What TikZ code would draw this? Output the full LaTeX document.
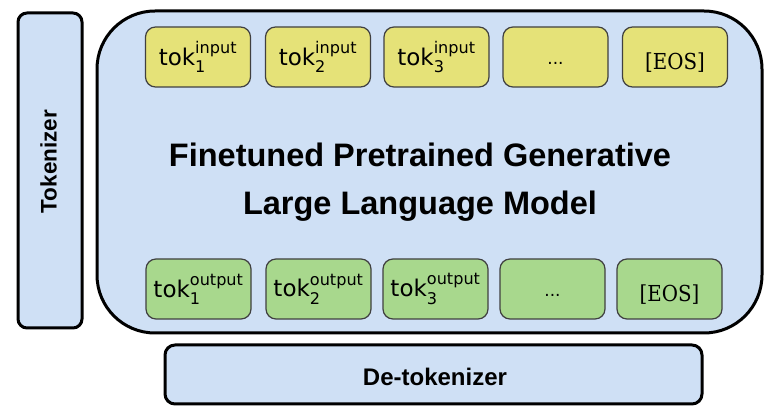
\documentclass[tikz,border=0pt]{standalone}
\usepackage{fontspec}
\usepackage{amsmath}
\usepackage{graphicx}
\setmainfont{Liberation Sans}
\newfontfamily\tokfont{DejaVu Sans}
\newfontfamily\eosfont{DejaVu Serif}

\definecolor{panelblue}{RGB}{207,224,245}
\definecolor{tokyellow}{RGB}{229,226,120}
\definecolor{tokgreen}{RGB}{168,216,141}

\tikzset{
  panel/.style={draw=black, line width=3pt, fill=panelblue, inner sep=0pt},
  tokbox/.style={draw=black!75, line width=1.2pt, rounded corners=10pt,
    minimum width=105pt, minimum height=60pt, inner sep=0pt,
    font=\tokfont\fontsize{23}{26}\selectfont},
  intok/.style={tokbox, fill=tokyellow},
  outtok/.style={tokbox, fill=tokgreen},
  eos/.style={font=\eosfont\fontsize{22}{25}\selectfont,
    text height=26pt, text depth=0pt},
  dots/.style={font=\tokfont\fontsize{17}{20}\selectfont,
    text height=15pt, text depth=0pt},
}
\newcommand{\tokin}[1]{$\text{tok}_{\text{#1}}^{\text{input}}$}
\newcommand{\tokout}[1]{$\text{tok}_{\text{#1}}^{\text{output}}$}
\newcommand{\eostext}{\scalebox{0.9}[1]{[EOS]}}

\begin{document}
\begin{tikzpicture}[x=1pt, y=-1pt]
  \useasboundingbox (0,0) rectangle (764,406);

  % tokenizer column
  \node[panel, rounded corners=9pt, minimum width=64pt, minimum height=315pt]
    (tokenizer) at (50,170.5) {};
  \node[rotate=90, font=\bfseries\fontsize{22.5}{26}\selectfont]
    (toklabel) at (48.5,161.5) {Tokenizer};

  % model panel
  \node[panel, rounded corners=58pt, minimum width=665pt, minimum height=322pt]
    (model) at (429.5,172) {};
  \node[align=center, font=\bfseries\fontsize{32.5}{48}\selectfont]
    (title) at (420,182.5) {Finetuned Pretrained Generative\\Large Language Model};

  % input tokens
  \node[intok] (i1) at (198,57) {\tokin{1}};
  \node[intok] (i2) at (318,57) {\tokin{2}};
  \node[intok] (i3) at (436.5,57) {\tokin{3}};
  \node[intok, dots] (i4) at (555.5,57) {...};
  \node[intok, eos] (i5) at (675,57) {\eostext};

  % output tokens
  \node[outtok] (o1) at (198.5,289) {\tokout{1}};
  \node[outtok] (o2) at (318.5,289) {\tokout{2}};
  \node[outtok] (o3) at (435.5,289) {\tokout{3}};
  \node[outtok, dots] (o4) at (552.5,289) {...};
  \node[outtok, eos] (o5) at (669.5,289) {\eostext};

  % de-tokenizer bar
  \node[panel, rounded corners=10pt, minimum width=537pt, minimum height=59pt]
    (detok) at (433.5,374.5) {};
  \node[font=\bfseries\fontsize{24}{28}\selectfont] (detoklabel)
    at (435,377) {De-tokenizer};
\end{tikzpicture}
\end{document}
